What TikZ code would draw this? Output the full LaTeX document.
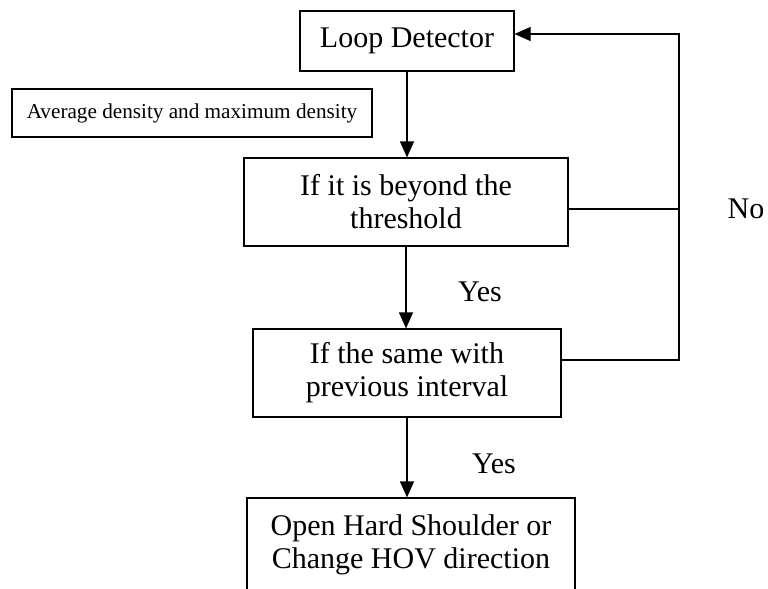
\documentclass[tikz,border=0pt]{standalone}
\usepackage{fontspec}
\setmainfont{Liberation Serif}
\usetikzlibrary{arrows.meta}

\begin{document}
\begin{tikzpicture}[x=0.5pt,y=-0.5pt,>={Triangle[length=8pt,width=7pt]},line width=0.6pt,
  box/.style={draw,inner sep=0pt,align=center,font=\fontsize{15}{16.5}\selectfont},
  lbl/.style={font=\fontsize{15}{16.5}\selectfont}]
  \clip (0,0) rectangle (768,589);
  \node[box,minimum width=107pt,minimum height=30pt] at (407,41) (loop) {Loop Detector};
  \node[box,minimum width=180pt,minimum height=24pt,font=\fontsize{10.6}{12}\selectfont] at (192,113) (avg) {Average density and maximum density};
  \node[box,minimum width=162pt,minimum height=44pt] at (406,202) (thresh) {If it is beyond the\\threshold};
  \node[box,minimum width=154pt,minimum height=44pt] at (407,373) (same) {If the same with\\previous interval};
  \node[box,minimum width=164pt,minimum height=47pt] at (411,545) (act) {Open Hard Shoulder or\\Change HOV direction};
  \node[lbl] at (480,292) (yes1) {Yes};
  \node[lbl] at (494,464) (yes2) {Yes};
  \node[lbl] at (746,209) (no) {No};
  \coordinate (fb) at (679,34);
  % main flow
  \draw[->] (loop.south) -- (loop.south |- thresh.north);
  \draw[->] (thresh.south) -- (thresh.south |- same.north);
  \draw[->] (same.south) -- (same.south |- act.north);
  % feedback to the detector
  \draw[->] ([yshift=6.5pt]same.east) -| (fb) -- ([yshift=3.5pt]loop.east);
  \draw ([yshift=-3.5pt]thresh.east) -- ([yshift=-3.5pt]thresh.east -| fb);
\end{tikzpicture}
\end{document}
